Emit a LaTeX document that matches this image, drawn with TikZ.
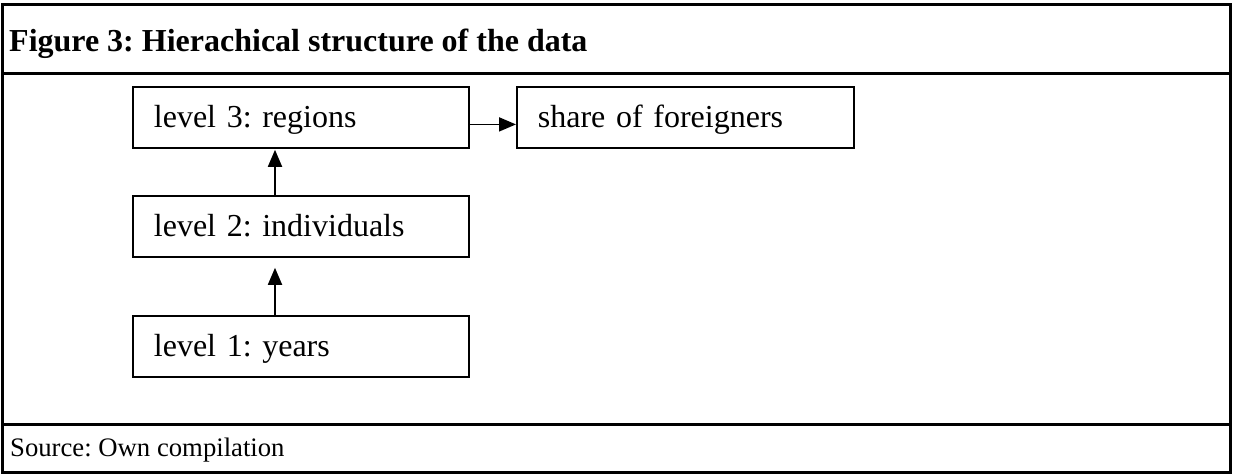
\documentclass[tikz,border=0pt]{standalone}
\usepackage{fontspec}
\setmainfont{Liberation Serif}
\usetikzlibrary{arrows.meta}
\frenchspacing
\begin{document}
\begin{tikzpicture}[x=1pt,y=-1pt,
  box/.style={draw, line width=1.8pt, anchor=north west, minimum height=61pt,
    text width=294pt, align=left, inner xsep=21pt, inner ysep=0pt,
    text height=26pt, text depth=6pt, font=\fontsize{32}{38}\selectfont},
  arr/.style={line width=1.8pt, -{Triangle[length=17pt,width=14pt]}},
  frame/.style={line width=3pt}]
\useasboundingbox (0,0) rectangle (1233,474);
% frame
\draw[frame] (2,4) rectangle (1230,472);
\draw[frame] (2,73) -- (1230,73);
\draw[frame] (2,424) -- (1230,424);
% title and source
\node[anchor=base west, inner sep=0pt, font=\bfseries\fontsize{32}{38}\selectfont] (title) at (9,51) {Figure 3: Hierachical structure of the data};
\node[anchor=base west, inner sep=0pt, font=\fontsize{26.7}{32}\selectfont] (src) at (10,456) {Source: Own compilation};
% boxes
\node[box] (L3) at (132,86) {level 3: regions};
\node[box, text width=295pt] (S) at (516,86) {share of foreigners};
\node[box] (L2) at (132,195) {level 2: individuals};
\node[box] (L1) at (132,315) {level 1: years};
% arrows
\draw[arr] ([xshift=143pt]L1.north west) -- ([xshift=143pt,yshift=-10pt]L2.south west);
\draw[arr] ([xshift=143pt]L2.north west) -- ([xshift=143pt,yshift=-1pt]L3.south west);
\draw[arr] ([yshift=-7pt]L3.east) -- ([yshift=-7pt]S.west);
\end{tikzpicture}
\end{document}
